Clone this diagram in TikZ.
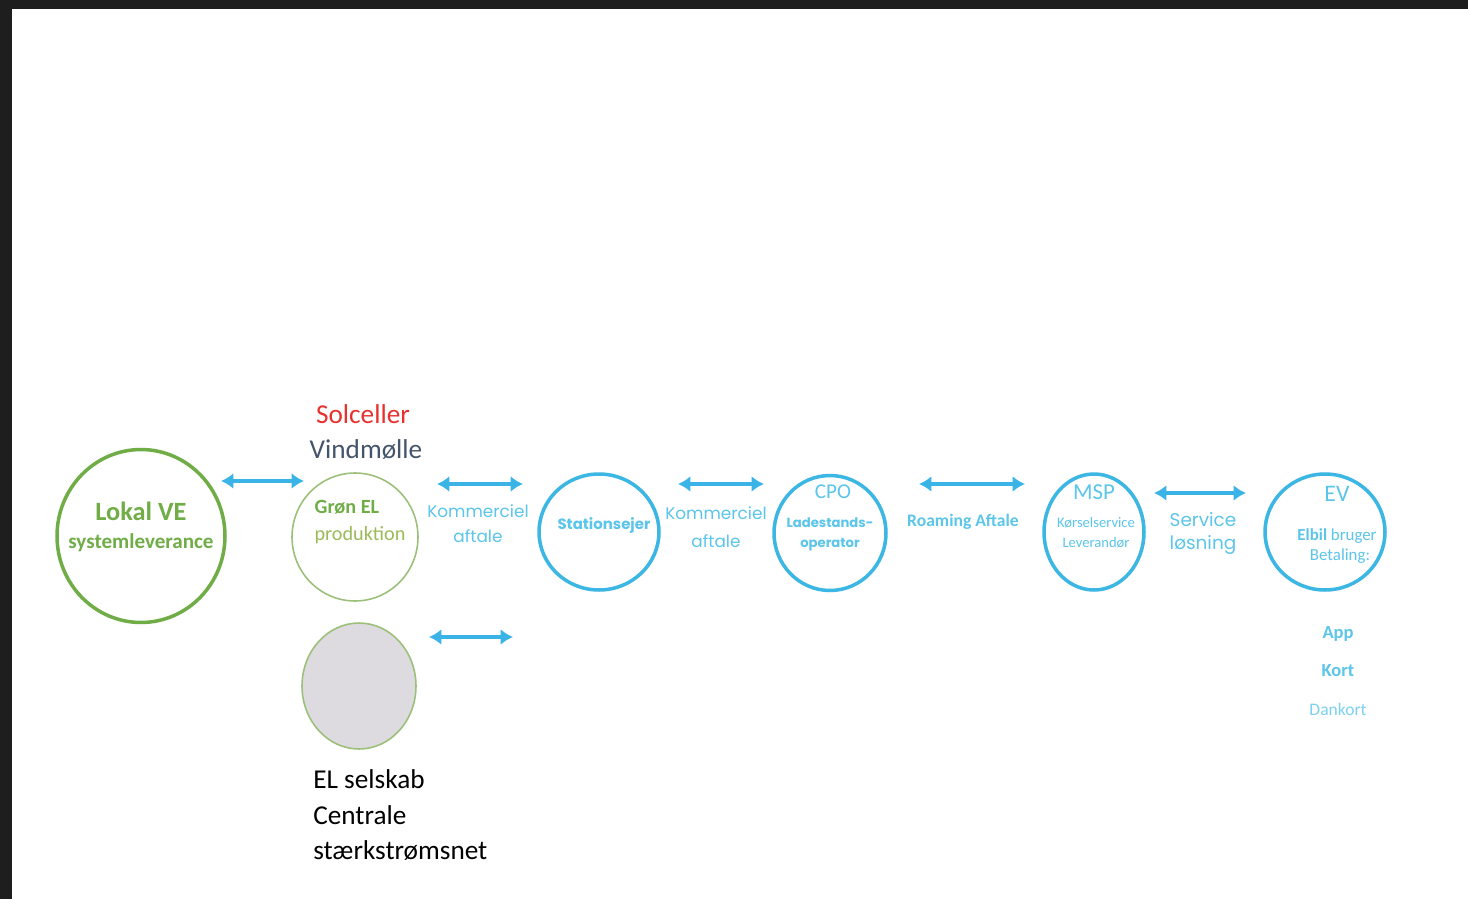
\documentclass[tikz,border=0pt]{standalone}
\usepackage{fontspec}
\setmainfont{Carlito}
\newfontfamily\geo{Poppins}
\usetikzlibrary{arrows.meta,shapes.geometric}
\definecolor{frame}{HTML}{1E1E1E}
\definecolor{vegreen}{HTML}{70AD47}
\definecolor{lightgreen}{HTML}{9CBF7A}
\definecolor{prodgreen}{HTML}{9BBB59}
\definecolor{cblue}{HTML}{3CB6E3}
\definecolor{ablue}{HTML}{3AB4E6}
\definecolor{tblue}{HTML}{5CC5EA}
\definecolor{solred}{HTML}{E8312F}
\definecolor{slate}{HTML}{44546A}
\definecolor{grayfill}{HTML}{DDDBE0}
\begin{document}
\begin{tikzpicture}[x=0.02cm,y=-0.02cm,
  ring/.style={ellipse,draw,inner sep=0pt,outer sep=0pt},
  arr/.style={draw=ablue,line width=2pt,{Latex[length=7pt,width=9pt]}-{Latex[length=7pt,width=9pt]}},
  lbl/.style={inner sep=0pt,align=center},
  btxt/.style={lbl,text=tblue,font=\geo\fontsize{9.6}{12}\selectfont}
]
\fill[frame] (0,0) rectangle (1468,899);
\fill[white] (12,9) rectangle (1468,899);
\useasboundingbox (0,0) rectangle (1468,899);

% circles
\node[ring,draw=vegreen,line width=2pt,minimum width=3.36cm,minimum height=3.46cm] (ve) at (141,536) {};
\node[ring,draw=lightgreen,line width=0.9pt,minimum width=2.52cm,minimum height=2.56cm] (gron) at (355,537) {};
\node[ring,draw=cblue,line width=2pt,minimum width=2.4cm,minimum height=2.32cm] (stat) at (599,532) {};
\node[ring,draw=cblue,line width=2pt,minimum width=2.24cm,minimum height=2.3cm] (cpo) at (830,533) {};
\node[ring,draw=cblue,line width=2pt,minimum width=2.0cm,minimum height=2.32cm] (msp) at (1094,532) {};
\node[ring,draw=cblue,line width=2pt,minimum width=2.4cm,minimum height=2.32cm] (ev) at (1325,532) {};
\node[ring,draw=lightgreen,fill=grayfill,line width=0.9pt,minimum width=2.28cm,minimum height=2.52cm] (grid) at (359,686) {};

% arrow end points
\coordinate (a1l) at (221,481); \coordinate (a1r) at (304,481);
\coordinate (a2l) at (437,484); \coordinate (a2r) at (523,484);
\coordinate (a3l) at (678,484); \coordinate (a3r) at (764,484);
\coordinate (a4l) at (919,484); \coordinate (a4r) at (1025,484);
\coordinate (a5l) at (1154,493); \coordinate (a5r) at (1246,493);
\coordinate (a6l) at (429,637); \coordinate (a6r) at (513,637);
\draw[arr] (a1l) -- (a1r);
\draw[arr] (a2l) -- (a2r);
\draw[arr] (a3l) -- (a3r);
\draw[arr] (a4l) -- (a4r);
\draw[arr] (a5l) -- (a5r);
\draw[arr] (a6l) -- (a6r);

% texts
\node[lbl,text=vegreen,font=\bfseries\fontsize{15}{18}\selectfont] (t-ve) at (141,511) {Lokal VE};
\node[lbl,text=vegreen,font=\bfseries\fontsize{12}{14}\selectfont] (t-ve2) at (141,543) {systemleverance};
\node[lbl,text=solred,font=\fontsize{15.5}{18}\selectfont] (t-sol) at (363,414) {Solceller};
\node[lbl,text=slate,font=\fontsize{15.5}{18}\selectfont] (t-vind) at (366,450) {Vindmølle};
\node[lbl,text=vegreen,font=\bfseries\fontsize{11.5}{14}\selectfont] (t-gron) at (347,507) {Grøn EL};
\node[lbl,text=prodgreen,font=\fontsize{11.5}{14}\selectfont] (t-prod) at (360,535) {produktion};
\node[btxt] (t-k1a) at (478,511) {Kommerciel};
\node[btxt] (t-k1b) at (478,536) {aftale};
\node[btxt,font=\geo\bfseries\fontsize{8.5}{10}\selectfont] (t-stat) at (604,526) {Stationsejer};
\node[btxt] (t-k2a) at (716,513) {Kommerciel};
\node[btxt] (t-k2b) at (716,541) {aftale};
\node[lbl,text=tblue,font=\fontsize{12}{14}\selectfont] (t-cpo) at (833,492) {CPO};
\node[btxt,font=\geo\bfseries\fontsize{7.5}{9}\selectfont] (t-lad) at (830,523) {Ladestands-};
\node[btxt,font=\geo\bfseries\fontsize{7.5}{9}\selectfont] (t-op) at (830,545) {operator};
\node[lbl,text=tblue,font=\bfseries\fontsize{10}{12}\selectfont] (t-roam) at (963,522) {Roaming Aftale};
\node[lbl,text=tblue,font=\fontsize{13}{15}\selectfont] (t-msp) at (1094,492) {MSP};
\node[lbl,text=tblue,font=\fontsize{8.3}{10}\selectfont] (t-kor) at (1096,523) {Kørselservice};
\node[lbl,text=tblue,font=\fontsize{8.3}{10}\selectfont] (t-lev) at (1096,543) {Leverandør};
\node[btxt,font=\geo\fontsize{10.5}{12}\selectfont] (t-serv) at (1203,520) {Service};
\node[btxt,font=\geo\fontsize{10.5}{12}\selectfont] (t-los) at (1203,545) {løsning};
\node[lbl,text=tblue,font=\fontsize{13.5}{15}\selectfont] (t-ev) at (1337,494) {EV};
\node[lbl,text=tblue,font=\fontsize{9.6}{11}\selectfont] (t-elbil) at (1337,536) {\textbf{Elbil} bruger};
\node[lbl,text=tblue,font=\fontsize{9.6}{11}\selectfont] (t-bet) at (1340,556) {Betaling:};
\node[lbl,text=tblue,font=\bfseries\fontsize{10.5}{12}\selectfont] (t-app) at (1338,634) {App};
\node[lbl,text=tblue,font=\bfseries\fontsize{10.5}{12}\selectfont] (t-kort) at (1338,671) {Kort};
\node[lbl,text=tblue!80,font=\fontsize{10}{12}\selectfont] (t-dan) at (1338,709) {Dankort};
\node[lbl,anchor=west,font=\fontsize{15.5}{18}\selectfont] (t-el1) at (313,779) {EL selskab};
\node[lbl,anchor=west,font=\fontsize{15.5}{18}\selectfont] (t-el2) at (313,815) {Centrale};
\node[lbl,anchor=west,font=\fontsize{15.5}{18}\selectfont] (t-el3) at (313,851) {stærkstrømsnet};
\end{tikzpicture}
\end{document}
